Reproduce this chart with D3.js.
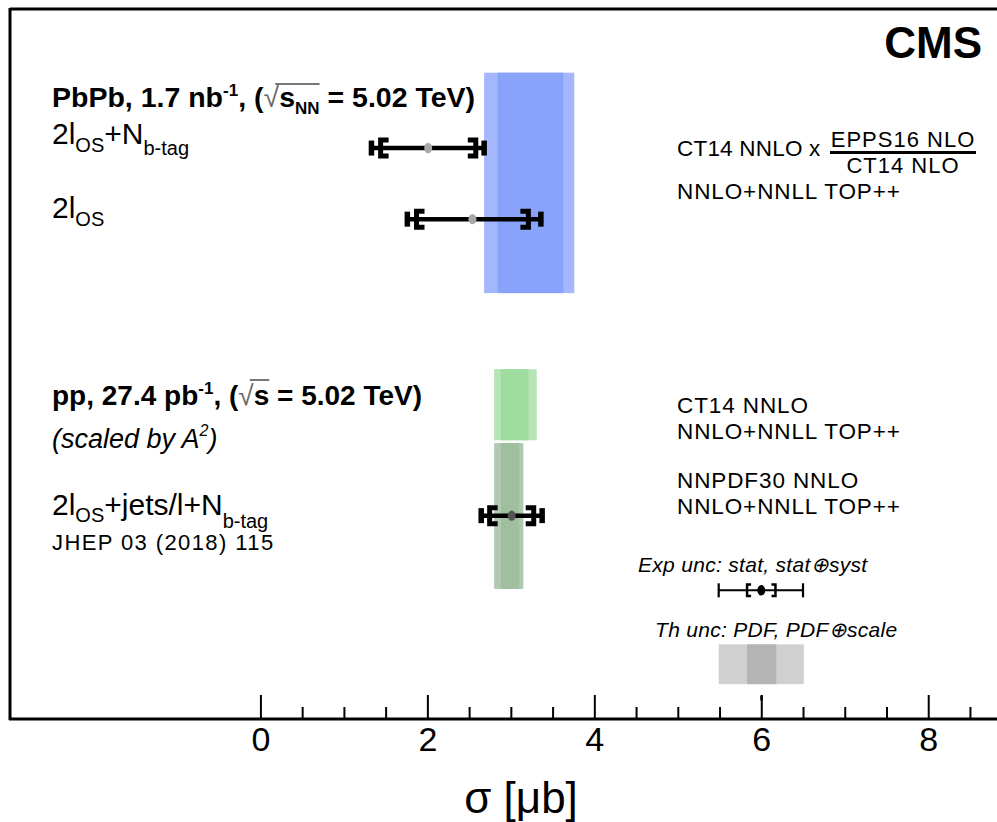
<!DOCTYPE html>
<html>
<head>
<meta charset="utf-8">
<title>ttbar PbPb summary</title>
<script src="https://cdn.jsdelivr.net/npm/d3@7"></script>
<style>
	body{margin:0;background:#fff;}
	svg{display:block;font-family:"Liberation Sans",Arial,Helvetica,sans-serif;}
</style>
</head>
<body>
<svg id="chart" width="997" height="822"></svg>
<script>
// measured cross sections, sigma in microbarn
var measValue  = [2.01, 2.54, 3.01];
var measTotLo  = [0.68, 0.78, 0.365];
var measTotHi  = [0.67, 0.82, 0.365];
var measStat   = [0.57, 0.67, 0.264];
var measRow    = [8.03, 7.03, 2.86];   // row position on hidden y axis

// theory bands: outer = PDF+scale, inner = PDF
var thOuterLo  = [2.68, 2.80, 2.80];
var thOuterHi  = [3.76, 3.31, 3.15];
var thInnerLo  = [2.84, 2.88, 2.88];
var thInnerHi  = [3.63, 3.21, 3.10];
var thRowTop   = [9.09, 4.92, 3.88];
var thRowBot   = [5.99, 3.92, 1.83];

// legend samples
var legExp = {v: 6.0, lo: 0.51, hi: 0.5, st: 0.17, row: 1.81};
var legTh  = {outerLo: 5.49, outerHi: 6.51, innerLo: 5.83, innerHi: 6.18, top: 1.05, bot: 0.49};

var majorTicks = [0, 2, 4, 6, 8];
var minorTicks = [0.5, 1, 1.5, 2.5, 3, 3.5, 4.5, 5, 5.5, 6.5, 7, 7.5, 8.5];

var W = 997, H = 822;
var svg = d3.select('#chart');

var x = d3.scaleLinear().domain([-3, 8.8]).range([10, 995]);
var y = d3.scaleLinear().domain([0, 10]).range([719, 8]);

// band colours: [outer, inner]
var bandColors = [['#a4b6fc', '#89a3fb'], ['#b5e4b5', '#9fdc9f'], ['#b1c9b1', '#9fbf9f']];

var bands = svg.append('g');
thOuterLo.forEach(function(d, i){
	bands.append('rect')
		.attr('x', x(thOuterLo[i])).attr('width', x(thOuterHi[i]) - x(thOuterLo[i]))
		.attr('y', y(thRowTop[i])).attr('height', y(thRowBot[i]) - y(thRowTop[i]))
		.attr('fill', bandColors[i][0]);
	bands.append('rect')
		.attr('x', x(thInnerLo[i])).attr('width', x(thInnerHi[i]) - x(thInnerLo[i]))
		.attr('y', y(thRowTop[i])).attr('height', y(thRowBot[i]) - y(thRowTop[i]))
		.attr('fill', bandColors[i][1]);
});

// legend band
bands.append('rect')
	.attr('x', x(legTh.outerLo)).attr('width', x(legTh.outerHi) - x(legTh.outerLo))
	.attr('y', y(legTh.top)).attr('height', y(legTh.bot) - y(legTh.top))
	.attr('fill', '#d0d0d0');
bands.append('rect')
	.attr('x', x(legTh.innerLo)).attr('width', x(legTh.innerHi) - x(legTh.innerLo))
	.attr('y', y(legTh.top)).attr('height', y(legTh.bot) - y(legTh.top))
	.attr('fill', '#b4b4b4');
bands.append('rect')
	.attr('x', x(6.0) - 1).attr('width', 2.5)
	.attr('y', y(0.33)).attr('height', 5)
	.attr('fill', '#000');

// error bars with stat brackets
function errBar(g, d, s){
	var yy = y(d.row),
		xl = x(d.v - d.lo), xr = x(d.v + d.hi),
		sl = x(d.v - d.st), sr = x(d.v + d.st);
	g.append('line')
		.attr('x1', xl).attr('x2', xr).attr('y1', yy).attr('y2', yy)
		.attr('stroke', '#000').attr('stroke-width', s.lw);
	[xl, xr].forEach(function(cx){
		g.append('rect')
			.attr('x', cx - s.capW / 2).attr('width', s.capW)
			.attr('y', yy - s.capH / 2).attr('height', s.capH)
			.attr('fill', '#000');
	});
	var t = yy - (s.brH - s.brW) / 2, b = yy + (s.brH - s.brW) / 2;
	g.append('path')
		.attr('d', 'M' + (sl + s.arm) + ',' + t + 'H' + sl + 'V' + b + 'H' + (sl + s.arm))
		.attr('fill', 'none').attr('stroke', '#000').attr('stroke-width', s.brW)
		.attr('stroke-linejoin', 'miter');
	g.append('path')
		.attr('d', 'M' + (sr - s.arm) + ',' + t + 'H' + sr + 'V' + b + 'H' + (sr - s.arm))
		.attr('fill', 'none').attr('stroke', '#000').attr('stroke-width', s.brW)
		.attr('stroke-linejoin', 'miter');
	g.append('ellipse')
		.attr('cx', x(d.v)).attr('cy', yy).attr('rx', s.dotR).attr('ry', s.dotR * 1.3)
		.attr('fill', s.dot);
}

var bars = svg.append('g');
var bigStyle = {lw: 4.5, capW: 5.5, capH: 15, brW: 5, brH: 21, arm: 8, dotR: 4, dot: '#a8a8a8'};
measValue.forEach(function(v, i){
	var st = Object.assign({}, bigStyle);
	if(i == 2) st.dot = '#555';
	errBar(bars, {v: v, lo: measTotLo[i], hi: measTotHi[i], st: measStat[i], row: measRow[i]}, st);
});
errBar(bars, legExp, {lw: 2, capW: 2.2, capH: 14, brW: 2.5, brH: 14, arm: 4, dotR: 4, dot: '#000'});

// frame
var frame = svg.append('g').attr('stroke', '#000').attr('stroke-width', 3);
frame.append('line').attr('x1', 10).attr('x2', W).attr('y1', 9).attr('y2', 9);
frame.append('line').attr('x1', 10).attr('x2', 10).attr('y1', 8).attr('y2', 720);
frame.append('line').attr('x1', 9).attr('x2', W).attr('y1', 719).attr('y2', 719);

// x axis, ticks pointing into the frame
var axMajor = svg.append('g').attr('transform', 'translate(0,719)')
	.call(d3.axisBottom(x).tickValues(majorTicks).tickSizeInner(-24).tickSizeOuter(0).tickPadding(8)
		.tickFormat(d3.format('d')));
var axMinor = svg.append('g').attr('transform', 'translate(0,719)')
	.call(d3.axisBottom(x).tickValues(minorTicks).tickSizeInner(-12).tickSizeOuter(0).tickFormat(''));
[axMajor, axMinor].forEach(function(a){
	a.select('.domain').remove();
	a.selectAll('.tick line').attr('stroke', '#000').attr('stroke-width', 2);
});
axMajor.selectAll('.tick text')
	.attr('fill', '#000')
	.style('font-size', '34px')
	.style('font-family', '"Liberation Sans",Arial,sans-serif');

svg.append('text')
	.attr('x', 521).attr('y', 813)
	.attr('text-anchor', 'middle')
	.style('font-size', '44px')
	.text('σ [μb]');

// CMS
svg.append('text')
	.attr('x', 982).attr('y', 58)
	.attr('text-anchor', 'end')
	.style('font-size', '44px').style('font-weight', 'bold')
	.text('CMS');

// helper for texts with sub/superscripts: parts = [[text, size, dy]]
function richText(xp, yp, size, parts, extra){
	var t = svg.append('text').attr('x', xp).attr('y', yp).style('font-size', size + 'px').attr('fill', '#000');
	if(extra) extra(t);
	parts.forEach(function(p){
		var ts = t.append('tspan').text(p[0]);
		if(p[1]) ts.style('font-size', p[1] + 'px');
		if(p[2]) ts.attr('dy', p[2]);
	});
	return t;
}
function bold(t){ t.style('font-weight', 'bold'); }

function overline(t, from, to, yl){
	var node = t.node();
	var a = node.getExtentOfChar(from), b = node.getExtentOfChar(to);
	svg.append('line')
		.attr('x1', a.x + a.width * 0.75).attr('x2', b.x + b.width)
		.attr('y1', yl).attr('y2', yl)
		.attr('stroke', '#777').attr('stroke-width', 2);
}

var t1 = richText(52, 107, 28.5, [['PbPb, 1.7 nb'], ['-1', 17, -11], [', (', 0, 11], ['√'], ['s'], ['NN', 17, 7], [' = 5.02 TeV)', 0, -7]], bold);
t1.selectAll('tspan').filter(function(d, i){ return i == 3; }).style('font-weight', 'normal').attr('fill', '#666');
overline(t1, 17, 20, 84);

richText(52, 144, 30, [['2l'], ['OS', 20, 8], ['+N', 0, -8], ['b-tag', 20, 11]]);
richText(52, 218, 30, [['2l'], ['OS', 20, 8]]);

var t2 = richText(52, 405, 28, [['pp, 27.4 pb'], ['-1', 17, -11], [', (', 0, 11], ['√'], ['s'], [' = 5.02 TeV)']], bold);
t2.selectAll('tspan').filter(function(d, i){ return i == 3; }).style('font-weight', 'normal').attr('fill', '#666');
overline(t2, 16, 17, 380);

richText(52, 448, 27, [['(scaled by A'], ['2', 16, -12], [')', 0, 12]], function(t){ t.style('font-style', 'italic'); });
richText(52, 515, 30, [['2l'], ['OS', 20, 7], ['+jets/l+N', 0, -7], ['b-tag', 20, 13]]);
richText(52, 550, 22, [['JHEP 03 (2018) 115']], function(t){ t.style('letter-spacing', '1.4px'); });

// theory labels
var thLabels = [
	['CT14 NNLO x', 677, 156, 0.2],
	['NNLO+NNLL TOP++', 677, 199, 0.9],
	['CT14 NNLO', 677, 413, 0.9],
	['NNLO+NNLL TOP++', 677, 439, 0.9],
	['NNPDF30 NNLO', 677, 488, 0.9],
	['NNLO+NNLL TOP++', 677, 514, 0.9]
];
thLabels.forEach(function(l){
	svg.append('text').attr('x', l[1]).attr('y', l[2])
		.style('font-size', '22.5px').style('letter-spacing', l[3] + 'px')
		.text(l[0]);
});
svg.append('text').attr('x', 903).attr('y', 147).attr('text-anchor', 'middle')
	.style('font-size', '22px').style('letter-spacing', '1px').text('EPPS16 NLO');
svg.append('text').attr('x', 903).attr('y', 173).attr('text-anchor', 'middle')
	.style('font-size', '22px').style('letter-spacing', '1px').text('CT14 NLO');
svg.append('line').attr('x1', 830).attr('x2', 976).attr('y1', 152.5).attr('y2', 152.5)
	.attr('stroke', '#000').attr('stroke-width', 3);

// legend labels
svg.append('text').attr('x', 638).attr('y', 572)
	.style('font-size', '21px').style('font-style', 'italic').style('letter-spacing', '0.3px')
	.text('Exp unc: stat, stat⊕syst');
svg.append('text').attr('x', 655).attr('y', 637)
	.style('font-size', '21px').style('font-style', 'italic').style('letter-spacing', '0.3px')
	.text('Th unc: PDF, PDF⊕scale');
</script>
</body>
</html>
